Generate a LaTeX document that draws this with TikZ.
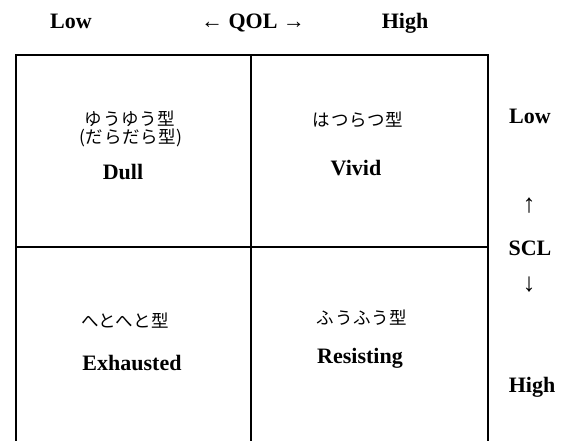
\documentclass[tikz,border=0pt]{standalone}
\usepackage{fontspec}
\setmainfont{Liberation Serif}
\newfontfamily\jpfont[LetterSpace=4]{Noto Sans CJK JP}
\tikzset{
  grid/.style={line width=2.4pt, line cap=rect},
  lbl/.style={font=\fontsize{22}{24}\selectfont\bfseries, anchor=base, inner sep=0pt},
  arr/.style={font=\fontsize{26}{28}\selectfont\bfseries, inner sep=0pt},
  jp/.style={font=\fontsize{17.5}{18}\jpfont, inner sep=0pt, anchor=base},
}
\begin{document}
\begin{tikzpicture}[x=1pt,y=-1pt]
\useasboundingbox (0,0) rectangle (562,440);
% grid
\draw[grid] (16,442) -- (16,55) -- (488,55) -- (488,442);
\draw[grid] (251,55) -- (251,442);
\draw[grid] (16,247) -- (488,247);
% top axis
\node[lbl] (qlow) at (71,28) {Low};
\node[lbl] (qol) at (253,28) {← QOL →};
\node[lbl] (qhigh) at (405,28) {High};
% right axis
\node[lbl] (slow) at (530,123) {Low};
\node[arr] (sup) at (529,206) {↑};
\node[lbl] (scl) at (530,255) {SCL};
\node[arr] (sdown) at (529,285) {↓};
\node[lbl] (shigh) at (532,392) {High};
% quadrants
\node[jp] (dulljp) at (130,125) {ゆうゆう型};
\node[jp] (dulljpb) at (131,143) {(だらだら型)};
\node[lbl] (dull) at (123,179) {Dull};
\node[jp] (vividjp) at (358,126) {はつらつ型};
\node[lbl] (vivid) at (356,175) {Vivid};
\node[jp] (exhjp) at (125,327) {へとへと型};
\node[lbl] (exh) at (132,370) {Exhausted};
\node[jp] (resjp) at (362,324) {ふうふう型};
\node[lbl] (res) at (360,363) {Resisting};
\end{tikzpicture}
\end{document}
